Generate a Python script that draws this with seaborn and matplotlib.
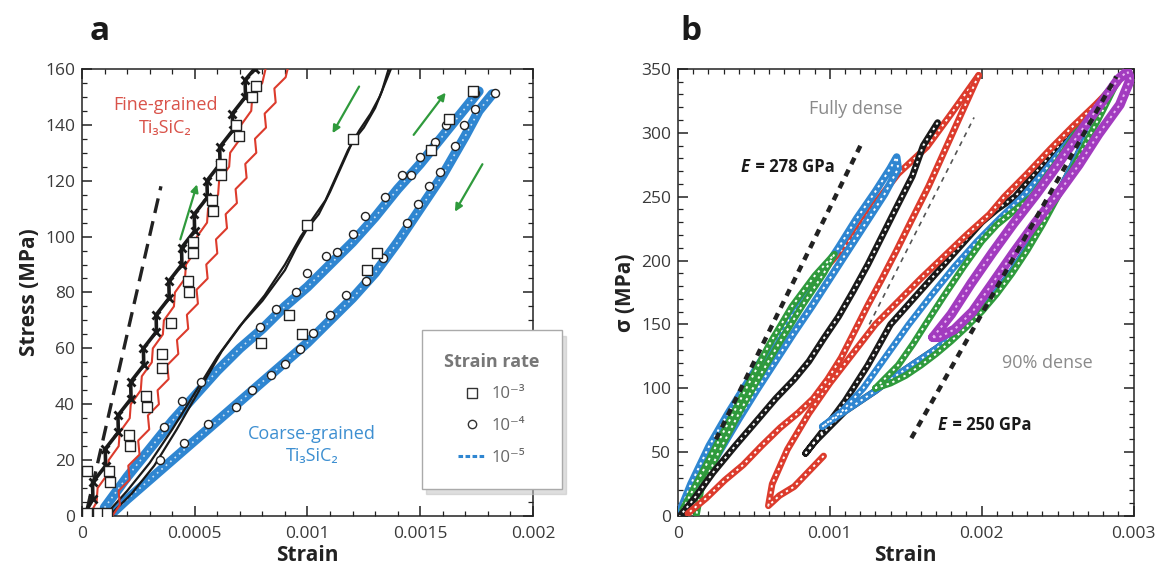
import numpy as np
import pandas as pd
import seaborn as sns
import matplotlib.pyplot as plt
from matplotlib.lines import Line2D
from matplotlib.ticker import MultipleLocator
from matplotlib import transforms

# ---------------- panel a data (strain, stress MPa) ----------------
# fine-grained, black noisy curve (10^-5)
fine_blk_x = [0.000005, 0.0000482, 0.0000464, 0.0001046, 0.0001028, 0.000161, 0.0001592, 0.0002174,
              0.0002156, 0.0002738, 0.000272, 0.0003302, 0.0003284, 0.0003866, 0.0003848, 0.000443,
              0.0004412, 0.0004994, 0.0004976, 0.0005558, 0.000554, 0.0006122, 0.0006104, 0.0006686,
              0.0006668, 0.000725, 0.0007232, 0.000765]
fine_blk_y = [0, 6, 12, 18, 24, 30, 36, 42, 48, 54, 60, 66, 72, 78, 84, 90, 96, 102, 108, 114,
              120, 126, 132, 138, 144, 150, 156, 160]
# fine-grained, red curves
fine_red1_x = [0.00003, 0.0000645, 0.000069, 0.0001135, 0.000118, 0.0001625, 0.000167, 0.0002115,
               0.000216, 0.0002605, 0.000265, 0.0003095, 0.000314, 0.0003585, 0.000363, 0.0004075,
               0.000412, 0.0004565, 0.000461, 0.0005055, 0.00051, 0.0005545, 0.000559, 0.0006035,
               0.000608, 0.0006525, 0.000657, 0.0007015, 0.000706, 0.0007505, 0.000755, 0.0007995,
               0.000814]
fine_red1_y = [0, 5, 10, 15, 20, 25, 30, 35, 40, 45, 50, 55, 60, 65, 70, 75, 80, 85, 90, 95, 100,
               105, 110, 115, 120, 125, 130, 135, 140, 145, 150, 155, 160]
fine_red2_x = [0.000134, 0.000168, 0.000162, 0.000211, 0.000205, 0.000255, 0.000249, 0.000298,
               0.000292, 0.000341, 0.000335, 0.000384, 0.000378, 0.000427, 0.000421, 0.000471,
               0.000465, 0.000514, 0.000508, 0.000557, 0.000551, 0.0006, 0.000594, 0.000643,
               0.000637, 0.000687, 0.000681, 0.00073, 0.000724, 0.000773, 0.000767, 0.000816,
               0.00081, 0.000859, 0.000853, 0.000903, 0.000912]
fine_red2_y = [0, 4, 9, 13, 18, 22, 27, 31, 36, 40, 45, 49, 54, 58, 63, 67, 72, 76, 81, 85, 90,
               94, 99, 103, 108, 112, 117, 121, 126, 130, 135, 139, 144, 148, 153, 157, 160]
# squares (10^-3) on the fine-grained loop
fine_sq_x = [0.00002, 0.00007, 0.00011, 0.000023, 0.000118, 0.000126, 0.000207, 0.000212, 0.000284,
             0.000289, 0.000355, 0.000355, 0.000395, 0.000469, 0.000474, 0.000493, 0.000493,
             0.000575, 0.000583, 0.000616, 0.000616, 0.000681, 0.000698, 0.000755, 0.000771]
fine_sq_y = [1, 1, 1, 16, 16, 12, 29, 25, 43, 39, 58, 53, 69, 84, 80, 98, 94, 113, 109, 126, 122,
             140, 136, 150, 154]
# dashed reference line
ref_a_x = [0.000023, 0.00035]
ref_a_y = [2.6, 118]

# coarse-grained, black double line (10^-3)
crs_blk1_x = [0.0001, 0.0002, 0.0003, 0.0004, 0.0005, 0.0006, 0.0007, 0.0008, 0.0009, 0.00095,
              0.001, 0.00105, 0.0011, 0.00115, 0.0012, 0.00125, 0.0013, 0.00133, 0.00136]
crs_blk1_y = [0, 9, 19, 31, 44, 57, 68, 77, 88, 96, 103, 108, 116, 125, 134, 139, 146, 152, 160]
crs_blk2_x = [0.00012, 0.00022, 0.00032, 0.00042, 0.00052, 0.00062, 0.00072, 0.00081, 0.0009,
              0.00097, 0.00102, 0.00108, 0.00113, 0.00118, 0.00123, 0.00128, 0.00132, 0.00135, 0.00137]
crs_blk2_y = [0, 8, 18, 31, 45, 59, 70, 79, 90, 100, 106, 113, 122, 131, 138, 144, 150, 156, 160]
crs_sq_x = [0.001, 0.0012, 0.000796, 0.000918, 0.000975, 0.001266, 0.00131, 0.00155, 0.001627, 0.001734]
crs_sq_y = [104, 135, 62, 72, 65, 88, 94, 131, 142, 152]

# coarse-grained, blue bands (10^-5)
blue_up_x = [0.0001, 0.0002, 0.0003, 0.0004, 0.0005, 0.0006, 0.0007, 0.0008, 0.0009, 0.001, 0.0011,
             0.0012, 0.0013, 0.0014, 0.0015, 0.0016, 0.0017, 0.00176]
blue_up_y = [3, 14, 24, 34, 43, 52, 60, 67, 75, 82, 90, 98, 107, 117, 126, 136, 146, 152]
blue_lo_x = [0.00012, 0.0002, 0.0003, 0.0004, 0.0005, 0.0006, 0.0007, 0.0008, 0.0009, 0.001, 0.0011,
             0.0012, 0.0013, 0.0014, 0.0015, 0.0016, 0.0017, 0.00176, 0.00182]
blue_lo_y = [0, 6, 13, 20, 27, 34, 41, 48, 55, 62, 70, 78, 87, 98, 110, 122, 136, 145, 151]
# circles (10^-4)
circ_up_x = [0.000363, 0.000444, 0.000526, 0.000788, 0.000861, 0.000951, 0.001, 0.001082, 0.00113,
             0.001204, 0.001253, 0.001343, 0.001418, 0.001458, 0.0015, 0.001565, 0.001614, 0.001745]
circ_up_y = [32, 41, 48, 67.5, 74, 80, 87, 93, 94.4, 101, 107.5, 114, 122, 122, 128.5, 134, 140, 151.5]
circ_lo_x = [0.000346, 0.000453, 0.000559, 0.000681, 0.000755, 0.000837, 0.000902, 0.000967,
             0.001025, 0.001098, 0.001172, 0.001261, 0.001335, 0.001441, 0.00149, 0.001539,
             0.001588, 0.001654, 0.001695, 0.001745, 0.00183]
circ_lo_y = [20, 26, 33, 39, 45, 50.5, 54.4, 59.7, 65.6, 72, 79, 84, 92.5, 105, 111.5, 118, 123,
             132.5, 140, 145.6, 151.5]

# green arrows: (x_start, y_start, x_end, y_end)
arrows_a = [(0.000436, 99, 0.000510, 118.7), (0.001229, 153.7, 0.001111, 137),
            (0.001471, 136.4, 0.001613, 151.5), (0.001776, 125.9, 0.001654, 108.9)]

xticks_a = [0, 0.0005, 0.001, 0.0015, 0.002]
xticklabels_a = ["0", "0.0005", "0.001", "0.0015", "0.002"]
yticks_a = [0, 20, 40, 60, 80, 100, 120, 140, 160]

# ---------------- panel b data ----------------
# fully dense
fd_blue_x = [0, 0.000085, 0.000206, 0.000328, 0.000449, 0.000571, 0.000692, 0.000814, 0.000935,
             0.001057, 0.001178, 0.0013, 0.001397, 0.00144, 0.00145, 0.00136, 0.00124, 0.00112,
             0.001, 0.00088, 0.00076, 0.00064, 0.00052, 0.0004, 0.00028, 0.00016, 0.00004, 0]
fd_blue_y = [0, 25, 55, 80, 103, 126, 147, 167, 188, 210, 233, 254, 272, 281, 272, 252, 230, 208,
             186, 164, 143, 121, 99, 76, 52, 28, 5, 0]
fd_green_x = [0.00003, 0.00015, 0.0003, 0.00045, 0.0006, 0.00075, 0.0009, 0.00103, 0.00096, 0.00082,
              0.00068, 0.00054, 0.0004, 0.00026, 0.00015, 0.00012]
fd_green_y = [5, 32, 66, 100, 134, 164, 188, 205, 190, 165, 138, 110, 80, 48, 20, 0]
fd_black_x = [0.00171, 0.001615, 0.001543, 0.001445, 0.001348, 0.001251, 0.001154, 0.001057, 0.00096,
              0.000862, 0.000765, 0.000644, 0.000522, 0.000377, 0.000231, 0.000109, 0.000012]
fd_black_y = [308, 290, 266, 243, 220, 197, 176, 156, 139, 121, 107, 92, 75, 55, 34, 14, 0]
fd_red_load_x = [0, 0.0002, 0.0004, 0.0006, 0.0008, 0.001, 0.00115, 0.0013, 0.00145, 0.00164,
                 0.0018, 0.00198]
fd_red_load_y = [0, 45, 87, 127, 165, 198, 218, 245, 268, 289, 315, 345]
fd_red_unload_x = [0.00198, 0.00187, 0.00176, 0.00165, 0.00154, 0.00144, 0.00134, 0.00125,
                   0.001165, 0.001075, 0.000985, 0.000891, 0.000794, 0.000672, 0.000551, 0.000429,
                   0.000308, 0.000186, 0.000065]
fd_red_unload_y = [345, 316, 287, 258, 232, 208, 185, 165, 145, 124, 107, 92, 81, 69, 55, 40, 28, 14, 2]

# 90 % dense
d90_red_x = [0.000959, 0.000862, 0.000765, 0.000668, 0.000595, 0.00062, 0.00072, 0.00086, 0.001,
             0.00115, 0.0013, 0.00145, 0.0016, 0.00175, 0.0019, 0.00205, 0.00215, 0.0023, 0.00245,
             0.0026, 0.00275, 0.0029]
d90_red_y = [47, 35, 23, 16, 8, 25, 52, 80, 104, 127, 150, 168, 186, 203, 220, 236, 250, 268, 287,
             305, 322, 340]
d90_black_x = [0.00084, 0.00095, 0.0011, 0.00125, 0.0014, 0.00155, 0.0017, 0.00185, 0.002, 0.0021,
               0.00222, 0.0024, 0.0026, 0.0028, 0.0027, 0.0026, 0.0025, 0.0024, 0.0023, 0.0022,
               0.0021, 0.002, 0.0019, 0.0018, 0.0017, 0.0016, 0.0015, 0.0014, 0.0013, 0.0012,
               0.0011, 0.001, 0.0009, 0.00084]
d90_black_y = [49, 66, 90, 118, 150, 170, 190, 210, 230, 240, 250, 275, 303, 325, 300, 275, 252,
               230, 210, 192, 176, 162, 150, 140, 131, 123, 115, 107, 98, 90, 82, 70, 58, 49]
d90_blue_x = [0.00095, 0.00108, 0.00122, 0.00137, 0.00152, 0.00167, 0.00182, 0.00197, 0.00212,
              0.00227, 0.0024, 0.00255, 0.0027, 0.00285, 0.0027, 0.0026, 0.0025, 0.0024, 0.0023,
              0.0022, 0.0021, 0.002, 0.0019, 0.0018, 0.0017, 0.0016, 0.0015, 0.0014, 0.0013,
              0.0012, 0.0011, 0.001, 0.00095]
d90_blue_y = [70, 82, 100, 125, 150, 173, 195, 215, 233, 250, 268, 290, 312, 332, 300, 275, 252,
              230, 210, 192, 176, 162, 150, 140, 131, 123, 115, 107, 98, 90, 82, 74, 70]
d90_green_x = [0.0013, 0.00145, 0.00155, 0.00163, 0.00175, 0.00188, 0.002, 0.0021, 0.00233, 0.0025,
               0.00265, 0.00278, 0.0029, 0.0028, 0.0027, 0.0026, 0.0025, 0.0024, 0.0023, 0.0022,
               0.0021, 0.002, 0.0019, 0.0018, 0.0017, 0.0016, 0.0015, 0.0014, 0.0013]
d90_green_y = [100, 118, 135, 150, 172, 195, 215, 228, 250, 278, 305, 325, 342, 318, 295, 272, 250,
               228, 208, 190, 174, 160, 148, 137, 127, 118, 110, 104, 100]
d90_purple_x = [0.00168, 0.0018, 0.00193, 0.00207, 0.00221, 0.00236, 0.0025, 0.00264, 0.00278,
                0.0029, 0.00296, 0.00298, 0.00291, 0.00277, 0.00264, 0.0025, 0.00235, 0.00221,
                0.00207, 0.00194, 0.00182, 0.00172, 0.00168]
d90_purple_y = [140, 158, 182, 206, 229, 252, 275, 299, 322, 342, 348, 342, 322, 299, 275, 252,
                229, 206, 182, 160, 146, 140, 140]

ref_278_x = [0.00025, 0.00121]
ref_278_y = [60, 292]
ref_250_x = [0.001537, 0.002886]
ref_250_y = [61, 344]
ref_thin_x = [0.00126, 0.00195]
ref_thin_y = [150, 312]

xticks_b = [0, 0.001, 0.002, 0.003]
xticklabels_b = ["0", "0.001", "0.002", "0.003"]
yticks_b = [0, 50, 100, 150, 200, 250, 300, 350]

# ---------------- style ----------------
sns.set_theme(style="ticks")
plt.rcParams["font.family"] = ["Open Sans", "DejaVu Sans"]
plt.rcParams["axes.edgecolor"] = "#222222"
plt.rcParams["axes.linewidth"] = 1.1

RED = "#dc3b2c"
BLUE = "#2f86d1"
GREEN = "#2f9a3c"
PURPLE = "#a23bbf"
TICK_C = "#3a3a3a"

fig = plt.figure(figsize=(11.59, 5.71), dpi=100)
ax_a = fig.add_axes([0.0708, 0.0963, 0.389, 0.783])
ax_b = fig.add_axes([0.585, 0.0963, 0.393, 0.783])


def line(ax, xs, ys, **kw):
    sns.lineplot(x=xs, y=ys, sort=False, estimator=None, ax=ax, **kw)


def chain(ax, xs, ys, color, dots="white", lw=4.8, z=3):
    # thick coloured band with light dots on top ~ a run of open markers
    line(ax, xs, ys, color=color, lw=lw, zorder=z, solid_capstyle="round", solid_joinstyle="round")
    line(ax, xs, ys, color=dots, lw=1.4, linestyle=(0, (1.2, 2.0)), zorder=z + 0.1)


def style_axes(ax, xticks, xlabels, yticks, xmin_loc, ymin_loc):
    ax.set_xticks(xticks)
    ax.set_xticklabels(xlabels)
    ax.set_yticks(yticks)
    ax.xaxis.set_minor_locator(MultipleLocator(xmin_loc))
    ax.yaxis.set_minor_locator(MultipleLocator(ymin_loc))
    ax.tick_params(which="both", direction="in", top=True, right=True, colors="#222222",
                   labelcolor=TICK_C, labelsize=12.5)
    ax.tick_params(which="major", length=7, width=1.1, pad=5)
    ax.tick_params(axis="x", which="major", pad=7)
    ax.tick_params(which="minor", length=3.5, width=0.9)
    ax.grid(False)


# ---------------- panel a ----------------
ax = ax_a
line(ax, ref_a_x, ref_a_y, color="#222222", lw=2.4, linestyle=(0, (4.5, 2.5)), zorder=2)

line(ax, blue_lo_x, blue_lo_y, color=BLUE, lw=7, zorder=2, solid_capstyle="round")
line(ax, blue_up_x, blue_up_y, color=BLUE, lw=7, zorder=2, solid_capstyle="round")
line(ax, blue_lo_x, blue_lo_y, color="#cfe4f6", lw=1.2, linestyle=(0, (1, 2.5)), zorder=2.1)
line(ax, blue_up_x, blue_up_y, color="#cfe4f6", lw=1.2, linestyle=(0, (1, 2.5)), zorder=2.1)

line(ax, crs_blk1_x, crs_blk1_y, color="#1a1a1a", lw=1.6, zorder=3)
line(ax, crs_blk2_x, crs_blk2_y, color="#1a1a1a", lw=1.6, zorder=3)

line(ax, fine_red2_x, fine_red2_y, color=RED, lw=1.5, zorder=3)
line(ax, fine_red1_x, fine_red1_y, color=RED, lw=1.5, zorder=3)
line(ax, fine_blk_x, fine_blk_y, color="#1a1a1a", lw=2.6, marker="x", markersize=6,
     markeredgewidth=2.0, markeredgecolor="#1a1a1a", zorder=3.5)

sns.scatterplot(x=circ_up_x + circ_lo_x, y=circ_up_y + circ_lo_y, marker="o", s=34, color="white",
                edgecolor="#222222", linewidth=1.0, ax=ax, zorder=4)
sns.scatterplot(x=fine_sq_x + crs_sq_x, y=fine_sq_y + crs_sq_y, marker="s", s=62, color="white",
                edgecolor="#222222", linewidth=1.0, ax=ax, zorder=4.5)

for x0, y0, x1, y1 in arrows_a:
    ax.annotate("", xy=(x1, y1), xytext=(x0, y0),
                arrowprops=dict(arrowstyle="-|>", color=GREEN, lw=1.6, mutation_scale=11,
                                shrinkA=0, shrinkB=0), zorder=5)

ax.text(0.00037, 147, "Fine-grained", color="#d9534a", fontsize=13, ha="center", va="center")
ax.text(0.00037, 139, "Ti\u2083SiC\u2082", color="#d9534a", fontsize=13, ha="center", va="center")
ax.text(0.00102, 29.5, "Coarse-grained", color="#3d8fd1", fontsize=13, ha="center", va="center")
ax.text(0.00102, 21.5, "Ti\u2083SiC\u2082", color="#3d8fd1", fontsize=13, ha="center", va="center")

ax.set_xlim(0, 0.002)
ax.set_ylim(0, 160)
style_axes(ax, xticks_a, xticklabels_a, yticks_a, 0.0001, 5)
ax.set_xlabel("Strain", fontsize=15, fontweight="bold", color="#222222", labelpad=2)
ax.set_ylabel("Stress (MPa)", fontsize=15, fontweight="bold", color="#222222", labelpad=4)

handles = [
    Line2D([], [], marker="s", linestyle="none", markerfacecolor="white", markeredgecolor="#333333",
           markersize=7, markeredgewidth=1.0),
    Line2D([], [], marker="o", linestyle="none", markerfacecolor="white", markeredgecolor="#333333",
           markersize=6, markeredgewidth=1.0),
    Line2D([], [], color=BLUE, lw=2.2, linestyle=(0, (1.5, 0.8))),
]
leg = ax.legend(handles, ["10\u207b\u00b3", "10\u207b\u2074", "10\u207b\u2075"], title="Strain rate",
                loc="upper left", bbox_to_anchor=(0.753, 0.416), borderaxespad=0, frameon=True,
                fancybox=False, shadow={"ox": 3, "oy": -4, "color": "#c4c4c4", "alpha": 0.55},
                fontsize=12, title_fontsize=13, borderpad=1.35, labelspacing=0.95,
                handlelength=1.6, handletextpad=0.4, markerfirst=True)
leg.get_title().set_fontweight("bold")
leg.get_title().set_color("#777777")
for t in leg.get_texts():
    t.set_color("#666666")
leg.get_frame().set_edgecolor("#aaaaaa")
leg.get_frame().set_linewidth(1.0)
leg.set_zorder(10)

# ---------------- panel b ----------------
ax = ax_b
chain(ax, d90_black_x, d90_black_y, "#1a1a1a", z=3)
chain(ax, d90_blue_x, d90_blue_y, BLUE, z=3.2)
chain(ax, d90_green_x, d90_green_y, GREEN, z=3.4)
chain(ax, d90_red_x, d90_red_y, RED, z=3.6)
chain(ax, d90_purple_x, d90_purple_y, PURPLE, dots="#e9b8f2", lw=7, z=3.8)

chain(ax, fd_red_load_x, fd_red_load_y, RED, z=3.9)
chain(ax, fd_blue_x, fd_blue_y, BLUE, lw=5.5, z=4)
chain(ax, fd_green_x, fd_green_y, GREEN, z=4.2)
chain(ax, fd_black_x, fd_black_y, "#1a1a1a", z=4.4)
chain(ax, fd_red_unload_x, fd_red_unload_y, RED, z=4.6)

line(ax, ref_278_x, ref_278_y, color="#222222", lw=3.2, linestyle=(0, (1.6, 1.4)), zorder=5)
line(ax, ref_250_x, ref_250_y, color="#222222", lw=3.2, linestyle=(0, (1.6, 1.4)), zorder=5)
line(ax, ref_thin_x, ref_thin_y, color="#555555", lw=1.2, linestyle=(0, (3, 3)), zorder=5)

ax.text(0.00117, 319, "Fully dense", color="#8a8a8a", fontsize=13, ha="center", va="center")
ax.text(0.00243, 120, "90% dense", color="#8a8a8a", fontsize=13, ha="center", va="center")
for xe, ye, lab in [(0.00041, 273, " = 278 GPa"), (0.00171, 71, " = 250 GPa")]:
    ax.text(xe, ye, "E", fontsize=12, fontweight="bold", style="italic", color="#1a1a1a",
            ha="left", va="center", zorder=6)
    ax.text(xe, ye, lab, fontsize=12, fontweight="bold", color="#1a1a1a", ha="left", va="center",
            zorder=6, transform=transforms.offset_copy(ax.transData, fig=fig, x=7.5, y=0, units="points"))

ax.set_xlim(0, 0.003)
ax.set_ylim(0, 350)
style_axes(ax, xticks_b, xticklabels_b, yticks_b, 0.0001, 10)
ax.set_xlabel("Strain", fontsize=15, fontweight="bold", color="#222222", labelpad=2)
ax.set_ylabel("\u03c3 (MPa)", fontsize=15, fontweight="bold", color="#222222", labelpad=4)

fig.text(0.077, 0.945, "a", fontsize=24, fontweight="bold", color="#1a1a1a", va="center")
fig.text(0.587, 0.945, "b", fontsize=24, fontweight="bold", color="#1a1a1a", va="center")

fig.savefig("out.png", dpi=100, facecolor="white")
